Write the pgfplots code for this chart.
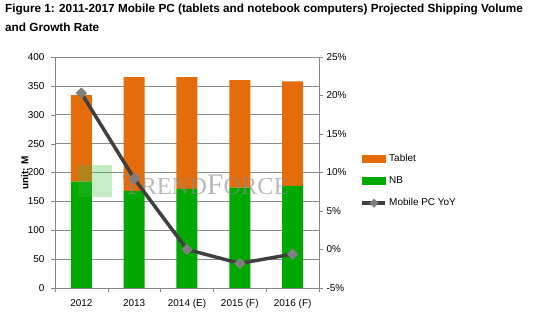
\documentclass[border=0pt]{standalone}
\usepackage{fontspec}
\setmainfont{Liberation Sans}
\newfontfamily\wmfont{Liberation Serif}
\usepackage{pgfplots}
\pgfplotsset{compat=1.18}
\definecolor{tab}{HTML}{E46C0A}
\definecolor{nb}{HTML}{00A800}
\definecolor{ln}{HTML}{404040}
\definecolor{mk}{HTML}{7F7F7F}
\definecolor{axc}{HTML}{868686}
\definecolor{grc}{HTML}{8C8C8C}
\pgfplotsset{widelinelegend/.style={legend image code/.code={\draw[##1, mark size=3bp, mark repeat=2, mark phase=2] plot coordinates {(0bp,0bp) (11.5bp,0bp) (23bp,0bp)};}}}
\begin{document}
\begin{tikzpicture}
\path[use as bounding box] (-55bp,-33bp) rectangle (478bp,288bp);
\node[anchor=base west, inner sep=0pt, font=\fontsize{11.8}{13}\selectfont\bfseries] at (-50bp,275bp) {Figure 1: 2011-2017 Mobile PC (tablets and notebook computers) Projected Shipping Volume};
\node[anchor=base west, inner sep=0pt, font=\fontsize{11.8}{13}\selectfont\bfseries] at (-50bp,256bp) {and Growth Rate};
\begin{axis}[
  at={(0,0)}, anchor=south west, scale only axis, width=264bp, height=231bp,
  xmin=-0.5, xmax=4.5, ymin=0, ymax=400,
  ybar stacked, bar width=21bp,
  axis x line*=bottom, axis y line*=left,
  axis line style={-, draw=axc},
  xtick={0,...,4}, xticklabels={2012,2013,2014 (E),2015 (F),2016 (F)},
  major x tick style={draw=none},
  minor xtick={-0.5,0.5,...,4.5},
  minor x tick style={draw=axc},
  minor tick length=4bp, major tick length=4bp,
  tick align=outside,
  ytick={0,50,...,400},
  y tick style={draw=axc},
  ymajorgrids, grid style={draw=grc, line width=0.6bp},
  ticklabel style={font=\fontsize{10}{12}\selectfont},
  x tick label style={yshift=-4bp},
  y tick label style={xshift=-3bp},
  /pgf/number format/assume math mode=true,
  ylabel={unit: M},
  ylabel style={at={(axis description cs:-0.114,0.5)}, anchor=center, font=\fontsize{10}{12}\selectfont\bfseries},
]
\addplot[fill=nb, draw=none] coordinates {(0,184) (1,168) (2,171.5) (3,174) (4,177)};
\addplot[fill=tab, draw=none] coordinates {(0,150) (1,197) (2,193.5) (3,186) (4,181)};
\end{axis}
\begin{axis}[
  at={(0,0)}, anchor=south west, scale only axis, width=264bp, height=231bp,
  xmin=-0.5, xmax=4.5, ymin=-5, ymax=25,
  axis x line=none, axis y line*=right,
  axis line style={-, draw=axc},
  ytick={-5,0,...,25},
  yticklabel={\pgfmathprintnumber{\tick}\%},
  tick align=outside, major tick length=4bp,
  y tick style={draw=axc},
  ticklabel style={font=\fontsize{10}{12}\selectfont},
  /pgf/number format/assume math mode=true,
  legend style={at={(1.146,0.463)}, anchor=west, draw=none, fill=none,
    font=\fontsize{10}{12}\selectfont, row sep=9.5bp},
  legend cell align=left,
]
\fill[green!50!gray, opacity=0.3] (rel axis cs:0.087,0.394) rectangle (rel axis cs:0.216,0.532);
\node[anchor=center, inner sep=0pt, font=\wmfont, text=black!45, opacity=0.6] at (rel axis cs:0.57,0.446) {\fontsize{30}{30}\selectfont T\fontsize{24.5}{24}\selectfont REND\fontsize{30}{30}\selectfont F\fontsize{24.5}{24}\selectfont ORCE};
\addlegendimage{legend image code/.code={\fill[tab] (0bp,-3.5bp) rectangle (23bp,3.5bp);}}
\addlegendentry{Tablet}
\addlegendimage{legend image code/.code={\fill[nb] (0bp,-3.5bp) rectangle (23bp,3.5bp);}}
\addlegendentry{NB}
\addplot[ln, line width=3.5bp, mark=square*, mark size=3.8bp,
  mark options={fill=mk, draw=mk, line width=0.4bp, rotate=45}, widelinelegend]
  coordinates {(0,20.3) (1,9.2) (2,0.0) (3,-1.8) (4,-0.6)};
\addlegendentry{Mobile PC YoY}
\end{axis}
\end{tikzpicture}
\end{document}
